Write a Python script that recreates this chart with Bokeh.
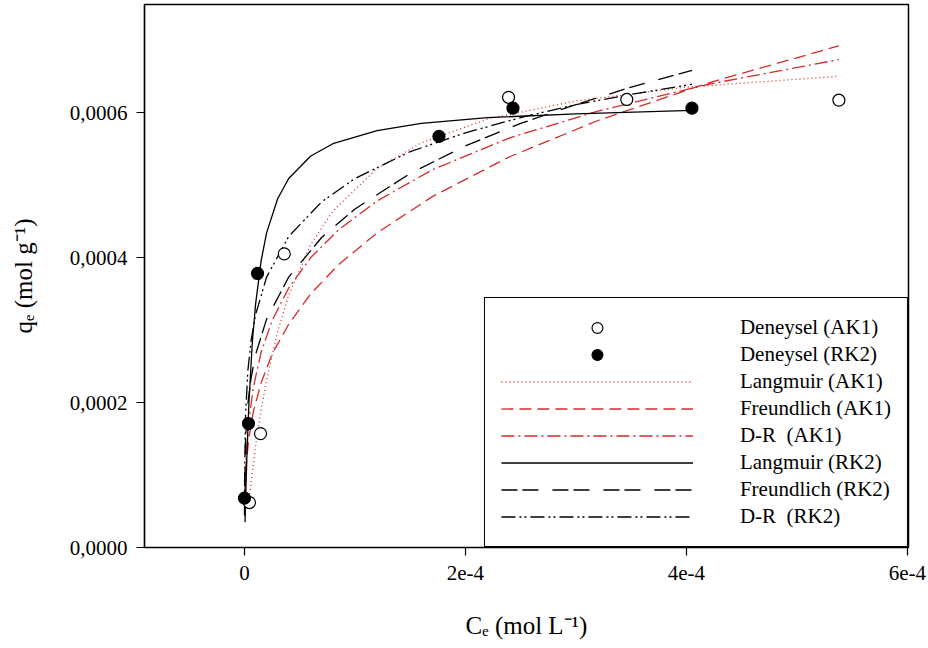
from bokeh.plotting import figure
from bokeh.models import Legend, LegendItem, FixedTicker, Range1d
from bokeh.embed import file_html
from bokeh.resources import INLINE

# ---------------- data ----------------
ak1_ce = [4.5e-6, 1.45e-5, 3.6e-5, 2.39e-4, 3.46e-4, 5.38e-4]
ak1_qe = [6.2e-5, 1.57e-4, 4.05e-4, 6.21e-4, 6.18e-4, 6.17e-4]
rk2_ce = [0.0, 3.6e-6, 1.18e-5, 1.76e-4, 2.43e-4, 4.05e-4]
rk2_qe = [6.8e-5, 1.71e-4, 3.78e-4, 5.67e-4, 6.06e-4, 6.06e-4]

lang_ak1_ce = [4e-6, 6e-6, 1e-5, 1.5e-5, 2e-5, 3e-5, 4e-5, 6e-5, 8e-5, 1.2e-4, 1.6e-4, 2.2e-4, 3e-4, 4e-4, 5.38e-4]
lang_ak1_qe = [6.3e-5, 9.0e-5, 1.39e-4, 1.89e-4, 2.31e-4, 2.98e-4, 3.48e-4, 4.18e-4, 4.64e-4, 5.23e-4, 5.58e-4, 5.91e-4, 6.16e-4, 6.35e-4, 6.50e-4]

freu_ak1_ce = [5e-7, 2e-6, 4e-6, 8e-6, 1.5e-5, 2.5e-5, 4e-5, 6e-5, 8.5e-5, 1.2e-4, 1.7e-4, 2.4e-4, 3.2e-4, 4.2e-4, 5.38e-4]
freu_ak1_qe = [7.9e-5, 1.22e-4, 1.51e-4, 1.87e-4, 2.27e-4, 2.67e-4, 3.08e-4, 3.50e-4, 3.90e-4, 4.34e-4, 4.84e-4, 5.39e-4, 5.89e-4, 6.41e-4, 6.92e-4]

dr_ak1_ce = [3e-7, 1e-6, 2e-6, 4e-6, 8e-6, 1.5e-5, 2.5e-5, 4e-5, 6e-5, 8.5e-5, 1.2e-4, 1.7e-4, 2.4e-4, 3.2e-4, 4.2e-4, 5.38e-4]
dr_ak1_qe = [6.6e-5, 1.06e-4, 1.37e-4, 1.75e-4, 2.21e-4, 2.69e-4, 3.13e-4, 3.58e-4, 4.00e-4, 4.38e-4, 4.78e-4, 5.21e-4, 5.65e-4, 6.02e-4, 6.39e-4, 6.73e-4]

lang_rk2_ce = [5e-7, 2e-6, 4e-6, 7e-6, 1e-5, 1.5e-5, 2e-5, 3e-5, 4e-5, 6e-5, 8e-5, 1.2e-4, 1.6e-4, 2.2e-4, 3e-4, 4.05e-4]
lang_rk2_qe = [3.5e-5, 1.19e-4, 1.99e-4, 2.81e-4, 3.35e-4, 3.95e-4, 4.34e-4, 4.81e-4, 5.09e-4, 5.40e-4, 5.57e-4, 5.75e-4, 5.85e-4, 5.93e-4, 5.98e-4, 6.03e-4]

freu_rk2_ce = [2e-8, 1e-6, 3e-6, 6e-6, 1e-5, 2e-5, 4e-5, 7e-5, 1e-4, 1.5e-4, 2e-4, 2.5e-4, 3e-4, 3.5e-4, 4.05e-4]
freu_rk2_qe = [5.8e-5, 1.51e-4, 1.98e-4, 2.34e-4, 2.66e-4, 3.15e-4, 3.73e-4, 4.28e-4, 4.67e-4, 5.16e-4, 5.54e-4, 5.85e-4, 6.11e-4, 6.35e-4, 6.58e-4]

dr_rk2_ce = [1e-8, 1e-7, 1e-6, 3e-6, 6e-6, 1e-5, 2e-5, 4e-5, 7e-5, 1e-4, 1.5e-4, 2e-4, 2.5e-4, 3e-4, 3.5e-4, 4.05e-4]
dr_rk2_qe = [4.4e-5, 9.5e-5, 1.83e-4, 2.43e-4, 2.86e-4, 3.21e-4, 3.73e-4, 4.29e-4, 4.77e-4, 5.09e-4, 5.46e-4, 5.72e-4, 5.93e-4, 6.11e-4, 6.25e-4, 6.39e-4]

x_ticks = [0.0, 2e-4, 4e-4, 6e-4]
x_tick_labels = ["0", "2e-4", "4e-4", "6e-4"]
y_ticks = [0.0, 0.0002, 0.0004, 0.0006]
y_tick_labels = ["0,0000", "0,0002", "0,0004", "0,0006"]

x_title = "C\u2091 (mol L\u207b\u00b9)"
y_title = "q\u2091 (mol g\u207b\u00b9)"

legend_labels = ["Deneysel (AK1)", "Deneysel (RK2)", "Langmuir (AK1)", "Freundlich (AK1)",
                 "D-R  (AK1)", "Langmuir (RK2)", "Freundlich (RK2)", "D-R  (RK2)"]

# ---------------- layout ----------------
XS, XE = -9.05e-5, 6.01e-4
YS, YE = 0.0, 7.49e-4
FL, FT, FW, FH = 144, 4, 764, 543
FONT = "Liberation Serif"
RED = "#d82a2a"

p = figure(frame_width=FW, frame_height=FH, min_border_left=FL, min_border_right=928 - FL - FW,
           min_border_top=FT, min_border_bottom=648 - FT - FH,
           x_range=Range1d(XS, XE), y_range=Range1d(YS, YE),
           output_backend="svg", toolbar_location=None,
           background_fill_color="white", border_fill_color="white")
p.grid.visible = False
p.outline_line_color = "black"
p.outline_line_width = 1.5
p.outline_line_alpha = 1.0

for ax in (p.xaxis[0], p.yaxis[0]):
    ax.axis_line_color = "black"
    ax.axis_line_width = 1.2
    ax.major_tick_line_color = "black"
    ax.major_tick_line_width = 1.2
    ax.major_tick_in = 0
    ax.major_tick_out = 8
    ax.minor_tick_line_color = None
    ax.major_label_text_font = FONT
    ax.major_label_text_font_size = "21px"
    ax.major_label_text_color = "black"
    ax.axis_label_text_font = FONT
    ax.axis_label_text_font_size = "25px"
    ax.axis_label_text_font_style = "normal"
    ax.axis_label_text_color = "black"

p.xaxis.ticker = FixedTicker(ticks=x_ticks)
p.xaxis.major_label_overrides = {t: s for t, s in zip(x_ticks, x_tick_labels)}
p.xaxis.major_label_standoff = 10
p.xaxis.axis_label = x_title
p.xaxis.axis_label_standoff = 29

p.yaxis.ticker = FixedTicker(ticks=y_ticks)
p.yaxis.major_label_overrides = {t: s for t, s in zip(y_ticks, y_tick_labels)}
p.yaxis.major_label_standoff = 9
p.yaxis.axis_label = y_title
p.yaxis.axis_label_standoff = 30

# curves
r_lang_ak1 = p.line(lang_ak1_ce, lang_ak1_qe, line_color=RED, line_width=1.3, line_dash="1 3")
r_freu_ak1 = p.line(freu_ak1_ce, freu_ak1_qe, line_color=RED, line_width=1.3, line_dash="12 6")
r_dr_ak1 = p.line(dr_ak1_ce, dr_ak1_qe, line_color=RED, line_width=1.3, line_dash="13 4 2 4")
r_lang_rk2 = p.line(lang_rk2_ce, lang_rk2_qe, line_color="black", line_width=1.3)
r_freu_rk2 = p.line(freu_rk2_ce, freu_rk2_qe, line_color="black", line_width=1.3, line_dash="16 5 16 14")
r_dr_rk2 = p.line(dr_rk2_ce, dr_rk2_qe, line_color="black", line_width=1.3, line_dash="14 4 2 3 2 4")

# data points
r_ak1 = p.scatter(ak1_ce, ak1_qe, marker="circle", size=12, fill_color="white",
                  line_color="black", line_width=1.2)
r_rk2 = p.scatter(rk2_ce, rk2_qe, marker="circle", size=12, fill_color="black",
                  line_color="black", line_width=1.2)

renderers = [r_ak1, r_rk2, r_lang_ak1, r_freu_ak1, r_dr_ak1, r_lang_rk2, r_freu_rk2, r_dr_rk2]
legend = Legend(items=[LegendItem(label=l, renderers=[r]) for l, r in zip(legend_labels, renderers)],
                location="bottom_right", margin=0, padding=16, spacing=0,
                glyph_width=192, glyph_height=27, label_height=21, label_standoff=47,
                label_text_font=FONT, label_text_font_size="21px", label_text_color="black",
                border_line_color="black", border_line_width=1.5, border_line_alpha=1.0,
                background_fill_color="white", background_fill_alpha=1.0)
p.add_layout(legend)

open("out.html", "w").write(file_html(p, INLINE))
